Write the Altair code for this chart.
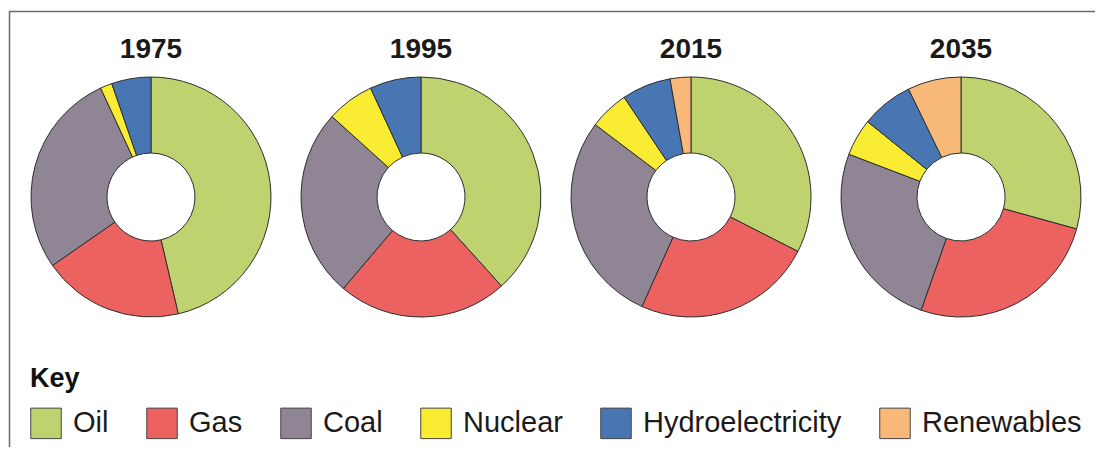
import altair as alt
import pandas as pd

# ---- data (share of world energy, %) ----
years = ["1975", "1995", "2015", "2035"]
sources = ["Oil", "Gas", "Coal", "Nuclear", "Hydroelectricity", "Renewables"]
colors = ["#bed370", "#ec6261", "#8f8595", "#faec32", "#4876b2", "#f8b978"]
oil = [46.4, 38.3, 32.5, 29.3]
gas = [19.0, 22.9, 24.2, 26.1]
coal = [27.8, 25.5, 28.6, 25.4]
nuclear = [1.6, 6.4, 5.3, 5.0]
hydro = [5.3, 6.9, 6.6, 7.0]
renewables = [0.0, 0.0, 2.8, 7.2]

series = [oil, gas, coal, nuclear, hydro, renewables]
rows = []
for i, yr in enumerate(years):
    for k, (src, vals) in enumerate(zip(sources, series)):
        rows.append({"Year": yr, "Source": src, "order": k, "share": vals[i]})
df = pd.DataFrame(rows)

FONT = "Liberation Sans"
xscale = alt.Scale(type="point", domain=years, range=[143, 953], padding=0)

donuts = (
    alt.Chart(df)
    .transform_filter("datum.share > 0")
    .transform_joinaggregate(total="sum(share)", groupby=["Year"])
    .transform_window(cum="sum(share)", groupby=["Year"],
                      sort=[alt.SortField("order")], frame=[None, 0])
    .transform_calculate(start="(datum.cum - datum.share) / datum.total",
                         end="datum.cum / datum.total")
    .mark_arc(outerRadius=120, innerRadius=44, stroke="#2e2e2e", strokeWidth=1)
    .encode(
        x=alt.X("Year:N", scale=xscale, axis=None),
        y=alt.value(189),
        theta=alt.Theta("start:Q", stack=False,
                        scale=alt.Scale(domain=[0, 1], range=[0, 6.283185307179586])),
        theta2="end:Q",
        color=alt.Color(
            "Source:N",
            scale=alt.Scale(domain=sources, range=colors),
            legend=alt.Legend(
                title="Key", orient="none", legendX=22, legendY=358,
                direction="horizontal", columns=6,
                symbolType="square", symbolSize=930, symbolOpacity=1,
                symbolStrokeColor="#444444", symbolStrokeWidth=1,
                labelFont=FONT, labelFontSize=29, labelColor="#1a1a1a",
                labelOffset=11, labelLimit=400, columnPadding=35,
                titleFont=FONT, titleFontSize=27, titleFontWeight="bold",
                titleColor="#111111", titlePadding=14, titleAnchor="start",
                padding=0,
            ),
        ),
    )
)

titles = (
    alt.Chart(pd.DataFrame({"Year": years}))
    .mark_text(font=FONT, fontSize=28, fontWeight="bold", color="#1a1a1a",
               baseline="alphabetic", align="center")
    .encode(x=alt.X("Year:N", scale=xscale, axis=None), y=alt.value(50), text="Year:N")
)

one = pd.DataFrame({"k": [0]})
border_top = alt.Chart(one).mark_rule(color="#6a6a6a", strokeWidth=1.5).encode(
    x=alt.value(1), x2=alt.value(1087), y=alt.value(3.5))
border_left = alt.Chart(one).mark_rule(color="#6a6a6a", strokeWidth=1.5).encode(
    x=alt.value(1.5), y=alt.value(3.5), y2=alt.value(439))

chart = (
    alt.layer(border_top, border_left, donuts, titles)
    .properties(width=1087, height=439, padding=0,
                autosize=alt.AutoSizeParams(type="none"))
    .configure(background="white")
    .configure_view(stroke=None)
)

chart.save("out.html", embed_options={"renderer": "svg", "actions": False})
